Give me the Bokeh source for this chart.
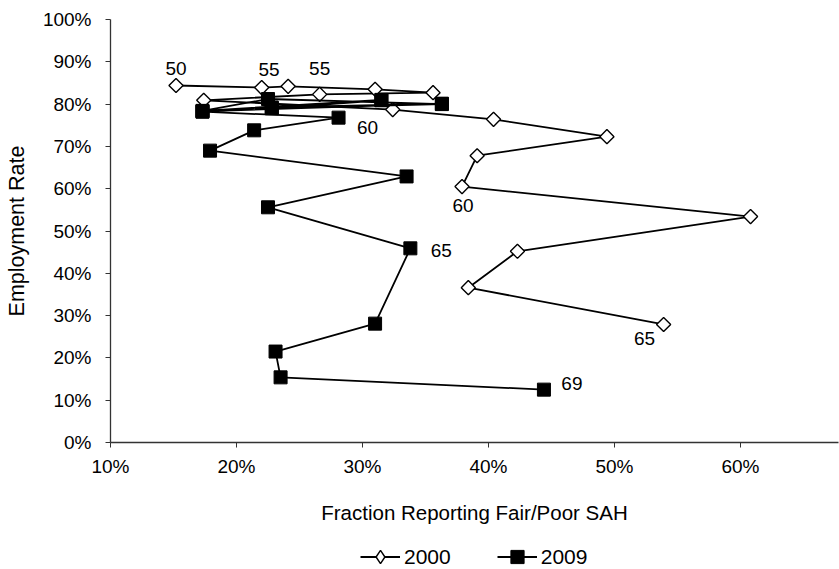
import numpy as np
from bokeh.plotting import figure
from bokeh.layouts import column
from bokeh.models import (ColumnDataSource, Range1d, FixedTicker, PrintfTickFormatter,
                          Legend, LegendItem)
from bokeh.core.properties import value
from bokeh.embed import file_html
from bokeh.resources import INLINE

# ---- data (percent) ----
ages_2000 = list(range(50, 66))
sah_2000 = [15.2, 22.0, 24.1, 31.0, 35.6, 26.6, 17.4, 32.4, 40.4, 49.4,
            39.1, 37.9, 60.8, 42.3, 38.4, 53.9]
emp_2000 = [84.4, 83.9, 84.2, 83.5, 82.7, 82.3, 80.9, 78.7, 76.4, 72.3,
            67.8, 60.5, 53.4, 45.2, 36.6, 27.9]

ages_2009 = list(range(50, 70))
sah_2009 = [22.8, 36.3, 17.3, 31.5, 17.3, 22.5, 36.3, 22.8, 31.5, 17.3,
            28.1, 21.4, 17.9, 33.5, 22.5, 33.8, 31.0, 23.1, 23.5, 44.4]
emp_2009 = [79.2, 80.1, 78.3, 81.0, 78.4, 81.2, 80.0, 79.0, 80.9, 78.2,
            76.8, 73.8, 69.0, 62.9, 55.6, 45.9, 28.1, 21.5, 15.4, 12.5]

series_names = ["2000", "2009"]
x_ticks = [10, 20, 30, 40, 50, 60]
y_ticks = [0, 10, 20, 30, 40, 50, 60, 70, 80, 90, 100]

# age labels: (index of point, text)
labels_2000 = [(0, "50"), (5, "55"), (11, "60"), (15, "65")]
labels_2009 = [(5, "55"), (10, "60"), (15, "65"), (19, "69")]

FONT = "Liberation Sans"

p = figure(width=839, height=529, output_backend="svg", toolbar_location=None,
           x_range=Range1d(10, 67.78), y_range=Range1d(0, 100),
           min_border_left=110, min_border_right=1, min_border_top=19,
           min_border_bottom=87)
p.outline_line_color = None
p.grid.visible = False
p.background_fill_color = "white"
p.border_fill_color = "white"

for ax in (p.xaxis[0], p.yaxis[0]):
    ax.axis_line_color = "#333333"
    ax.axis_line_width = 1.3
    ax.major_tick_line_color = "#333333"
    ax.major_tick_out = 5
    ax.major_tick_in = 0
    ax.minor_tick_line_color = None
    ax.major_label_text_font = FONT
    ax.major_label_text_font_size = "19px"
    ax.major_label_text_color = "#000000"
    ax.axis_label_text_font = FONT
    ax.axis_label_text_font_style = "normal"
    ax.axis_label_text_color = "#000000"
    ax.formatter = PrintfTickFormatter(format="%d%%")

p.xaxis.ticker = FixedTicker(ticks=x_ticks)
p.yaxis.ticker = FixedTicker(ticks=y_ticks)
p.xaxis.axis_label = "Fraction Reporting Fair/Poor SAH"
p.yaxis.axis_label = "Employment Rate"
p.xaxis.axis_label_text_font_size = "20.5px"
p.yaxis.axis_label_text_font_size = "21.5px"
p.xaxis.major_label_standoff = 8
p.xaxis.axis_label_standoff = 21
p.yaxis.major_label_standoff = 14
p.yaxis.axis_label_standoff = 11

src0 = ColumnDataSource(dict(x=sah_2000, y=emp_2000, age=ages_2000))
src1 = ColumnDataSource(dict(x=sah_2009, y=emp_2009, age=ages_2009))

LINE = dict(line_color="black", line_width=1.8)
DIAMOND = dict(marker="square", angle=np.pi / 4, size=10,
               fill_color="white", line_color="black", line_width=1.4)
SQUARE = dict(marker="square", size=13, fill_color="black", line_color="black")

p.line("x", "y", source=src0, **LINE)
p.scatter("x", "y", source=src0, **DIAMOND)
p.line("x", "y", source=src1, **LINE)
p.scatter("x", "y", source=src1, **SQUARE)

# label offsets in screen px (dx, dy with dy positive = down)
off0 = [(0, -17), (0, -26), (1, 19), (-19, 14)]
off1 = [(1, -30), (29, 10), (31, 2), (28, -6)]

def label_source(xs, ys, labels, offs):
    return ColumnDataSource(dict(
        x=[xs[i] for i, _ in labels], y=[ys[i] for i, _ in labels],
        t=[t for _, t in labels],
        dx=[o[0] for o in offs], dy=[o[1] for o in offs]))

for src in (label_source(sah_2000, emp_2000, labels_2000, off0),
            label_source(sah_2009, emp_2009, labels_2009, off1)):
    p.text("x", "y", text="t", source=src, x_offset="dx", y_offset="dy",
           text_align="center", text_baseline="middle",
           text_font=value(FONT), text_font_size="19px", text_color="black")

# ---- legend strip below the chart (series drawn out of view, legend only) ----
pl = figure(width=839, height=40, output_backend="svg", toolbar_location=None,
            x_range=Range1d(1000, 1001), y_range=Range1d(1000, 1001),
            min_border=0, x_axis_type=None, y_axis_type=None)
pl.outline_line_color = None
pl.grid.visible = False
la = pl.line("x", "y", source=src0, **LINE)
sa = pl.scatter("x", "y", source=src0, marker="diamond", size=14,
                fill_color="white", line_color="black", line_width=1.4)
lb = pl.line("x", "y", source=src1, **LINE)
sb = pl.scatter("x", "y", source=src1, **SQUARE)

legend = Legend(items=[LegendItem(label=series_names[0], renderers=[la, sa]),
                       LegendItem(label=series_names[1], renderers=[lb, sb])],
                orientation="horizontal", location=(250, -4),
                border_line_color=None, background_fill_alpha=0,
                label_text_font=FONT, label_text_font_size="21px",
                label_text_color="black",
                glyph_width=40, glyph_height=33, spacing=46, label_standoff=4,
                padding=0, margin=0)
pl.add_layout(legend, "center")

layout = column(p, pl, spacing=0)
open("out.html", "w").write(file_html(layout, INLINE))
